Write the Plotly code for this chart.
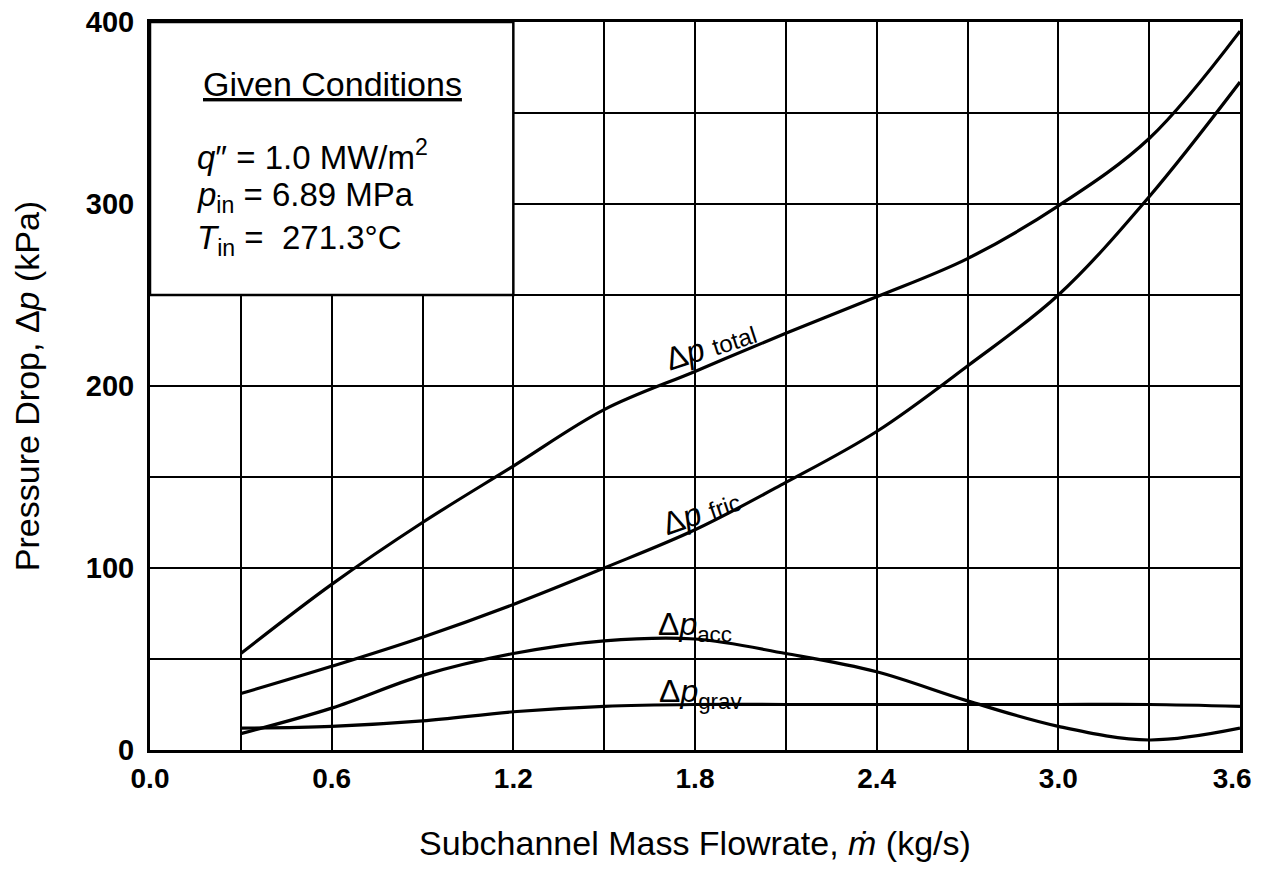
import plotly.graph_objects as go

# Data
flow = [0.3, 0.6, 0.9, 1.2, 1.5, 1.8, 2.1, 2.4, 2.7, 3.0, 3.3, 3.6]
dp_total = [53, 91, 125, 156, 187, 208, 229, 249, 270, 299, 336, 395]
dp_fric = [31, 46, 62, 80, 100, 121, 147, 175, 211, 250, 304, 367]
dp_acc = [9, 23, 41, 53, 60, 61, 53, 43, 27, 13, 5.5, 12]
dp_grav = [12, 13, 16, 21, 24, 25, 25, 25, 25, 25, 25, 24]

x_ticks = [0.0, 0.6, 1.2, 1.8, 2.4, 3.0, 3.6]
y_ticks = [0, 100, 200, 300, 400]

FONT = "Liberation Sans"

fig = go.Figure()
for ys in [dp_total, dp_fric, dp_acc, dp_grav]:
    fig.add_trace(go.Scatter(x=flow, y=ys, mode="lines",
                             line=dict(color="black", width=3.2, shape="spline", smoothing=1.0),
                             showlegend=False, hoverinfo="skip"))

# Box of given conditions (covers grid in upper-left)
fig.add_shape(type="rect", xref="x", yref="y", x0=0, x1=1.2, y0=250, y1=400,
              fillcolor="white", line=dict(color="black", width=2.5), layer="between")

box_font = dict(family=FONT, size=33, color="black")
fig.add_annotation(x=0.17, y=366, xref="x", yref="y", xanchor="left", yanchor="middle",
                   text="<u>Given Conditions</u>", showarrow=False,
                   font=dict(family=FONT, size=34, color="black"))
fig.add_annotation(x=0.15, y=327, xref="x", yref="y", xanchor="left", yanchor="middle",
                   text="<i>q</i>\u2033 = 1.0 MW/m<sup>2</sup>", showarrow=False, font=box_font)
fig.add_annotation(x=0.15, y=304, xref="x", yref="y", xanchor="left", yanchor="middle",
                   text="<i>p</i><sub>in</sub> = 6.89 MPa", showarrow=False, font=box_font)
fig.add_annotation(x=0.15, y=280, xref="x", yref="y", xanchor="left", yanchor="middle",
                   text="<i>T</i><sub>in</sub> =  271.3\u00b0C", showarrow=False, font=box_font)

# Curve labels
lab_font = dict(family=FONT, size=32, color="black")
fig.add_annotation(x=1.85, y=222, xref="x", yref="y", textangle=-18, showarrow=False,
                   text="\u0394<i>p</i> <span style='font-size:24px'>total</span>", font=lab_font)
fig.add_annotation(x=1.82, y=131, xref="x", yref="y", textangle=-19, showarrow=False,
                   text="\u0394<i>p</i> <span style='font-size:24px'>fric</span>", font=lab_font)
fig.add_annotation(x=1.80, y=68, xref="x", yref="y", showarrow=False,
                   text="\u0394<i>p</i><sub>acc</sub>", font=lab_font)
fig.add_annotation(x=1.82, y=31, xref="x", yref="y", showarrow=False,
                   text="\u0394<i>p</i><sub>grav</sub>", font=lab_font)

# last label padded so it stays inside the window edge
x_ticktext = [f"{v:.1f}" for v in x_ticks]
x_ticktext[-1] = x_ticktext[-1] + "\u00a0\u00a0"

fig.update_xaxes(range=[0, 3.6], tickvals=x_ticks, ticktext=x_ticktext,
                 showgrid=True, gridcolor="black", gridwidth=2,
                 minor=dict(dtick=0.3, tick0=0, showgrid=True, gridcolor="black", gridwidth=2),
                 showline=True, linecolor="black", linewidth=3, mirror=True, automargin=False,
                 ticks="", ticklabelstandoff=1, zeroline=False, ticklabeloverflow="allow",
                 tickfont=dict(family=FONT, size=28, color="black", weight="bold"),
                 title=dict(text="Subchannel Mass Flowrate, <i>\u1e41</i> (kg/s)",
                            font=dict(family=FONT, size=34, color="black"), standoff=39))
fig.update_yaxes(range=[0, 400], tickvals=y_ticks,
                 showgrid=True, gridcolor="black", gridwidth=2,
                 minor=dict(dtick=50, tick0=0, showgrid=True, gridcolor="black", gridwidth=2),
                 showline=True, linecolor="black", linewidth=3, mirror=True, automargin=False,
                 ticks="", ticklabelstandoff=7, zeroline=False, ticklabeloverflow="allow",
                 tickfont=dict(family=FONT, size=29, color="black", weight="bold"),
                 title=dict(text="Pressure Drop, \u0394<i>p</i> (kPa)",
                            font=dict(family=FONT, size=34, color="black"), standoff=36))

# page body has an 8px margin: keep the figure inside the 1264x871 window
fig.update_layout(width=1248, height=855, plot_bgcolor="white", paper_bgcolor="white",
                  margin=dict(l=142, r=16, t=14, b=113), showlegend=False)

fig.write_html("out.html")
